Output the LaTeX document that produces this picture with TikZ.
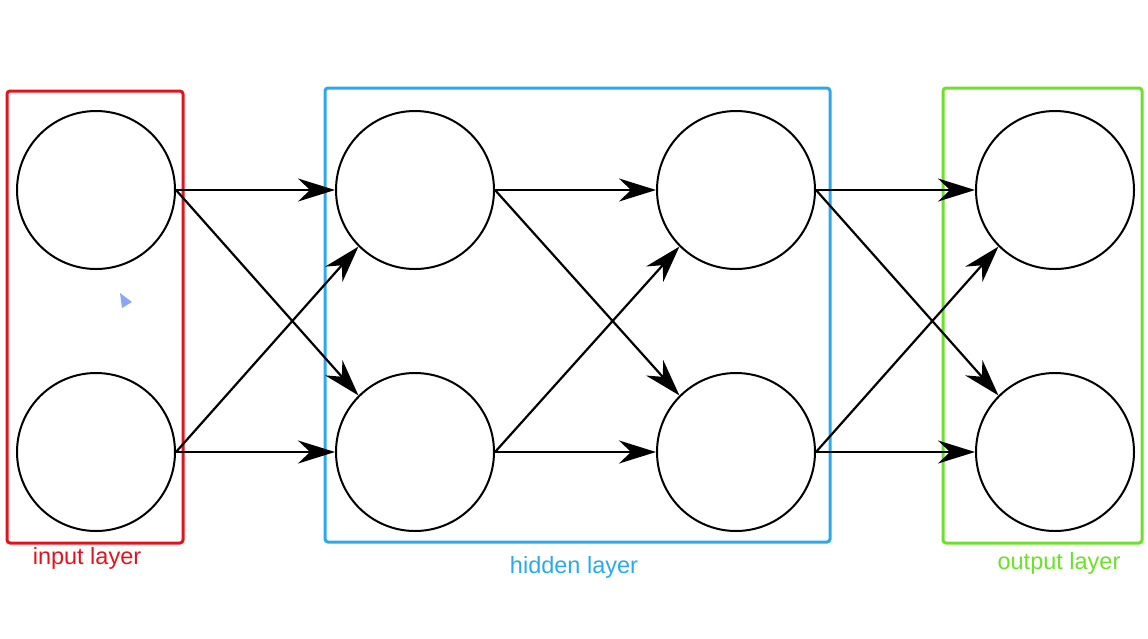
\documentclass[tikz,border=0pt]{standalone}
\usepackage{fontspec}
\setmainfont{Liberation Sans}
\usetikzlibrary{arrows.meta}
\definecolor{inred}{HTML}{E0141E}
\definecolor{hidblue}{HTML}{2CA9EA}
\definecolor{outgreen}{HTML}{6CE02A}
\definecolor{cursorblue}{HTML}{8BA6F7}
\tikzset{
  neuron/.style={circle, draw=black, line width=2pt, minimum size=158pt, inner sep=0pt},
  conn/.style={line width=2.2pt, -{Stealth[length=37pt,width=23pt,inset=12pt]}},
  layerbox/.style={line width=3pt, rounded corners=3pt},
  layerlabel/.style={font=\fontsize{23.5}{26}\selectfont, inner sep=0pt}
}
\begin{document}
\begin{tikzpicture}[x=1pt,y=-1pt]
\useasboundingbox (0,0) rectangle (1148,638);
% layer boxes
\draw[layerbox, inred] (7,91) rectangle (183,543);
\draw[layerbox, hidblue] (325,88) rectangle (830,542);
\draw[layerbox, outgreen] (943,88) rectangle (1142,543);
% neurons
\node[neuron] (i1) at (96,190) {};
\node[neuron] (i2) at (96,452) {};
\node[neuron] (h1) at (415,190) {};
\node[neuron] (h2) at (415,452) {};
\node[neuron] (g1) at (736,190) {};
\node[neuron] (g2) at (736,452) {};
\node[neuron] (o1) at (1055,190) {};
\node[neuron] (o2) at (1055,452) {};
% connections
\draw[conn] (i1.east) -- (h1.west);
\draw[conn] (i1.east) -- (h2.north west);
\draw[conn] (i2.east) -- (h2.west);
\draw[conn] (i2.east) -- (h1.south west);
\draw[conn] (h1.east) -- (g1.west);
\draw[conn] (h1.east) -- (g2.north west);
\draw[conn] (h2.east) -- (g2.west);
\draw[conn] (h2.east) -- (g1.south west);
\draw[conn] (g1.east) -- (o1.west);
\draw[conn] (g1.east) -- (o2.north west);
\draw[conn] (g2.east) -- (o2.west);
\draw[conn] (g2.east) -- (o1.south west);
% labels
\node[layerlabel, text=inred] (lin) at (87,558) {input layer};
\node[layerlabel, text=hidblue] (lhid) at (574,567) {hidden layer};
\node[layerlabel, text=outgreen] (lout) at (1059,563) {output layer};
% cursor
\fill[cursorblue] (120,293) -- (132,302) -- (122,308) -- cycle;
\end{tikzpicture}
\end{document}
